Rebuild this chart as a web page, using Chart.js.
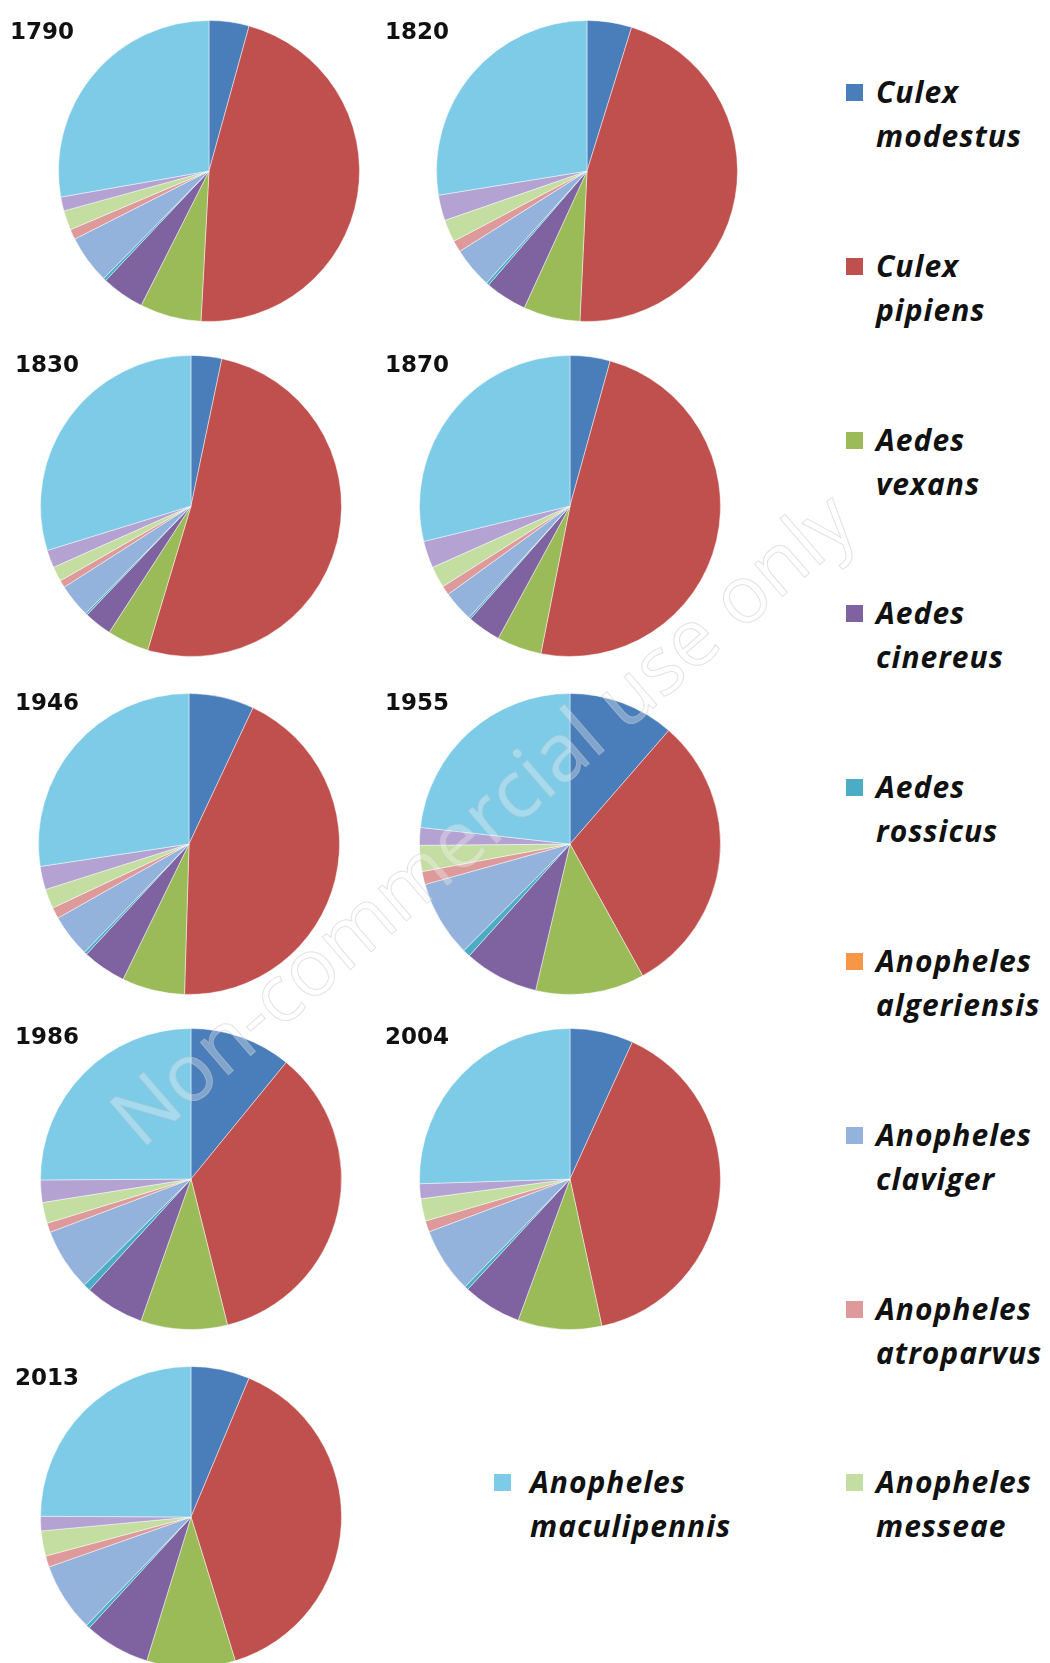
<!DOCTYPE html>
<html>
<head>
<meta charset="utf-8">
<script src="https://cdn.jsdelivr.net/npm/chart.js@4.4.1/dist/chart.umd.min.js"></script>
<style>
  html, body { margin: 0; padding: 0; background: #fff; }
  body { width: 1050px; height: 1663px; position: relative; overflow: hidden; }
  .pie { position: absolute; }
  .year { position: absolute; font-family: 'DejaVu Sans', sans-serif; font-weight: bold; font-size: 23px; color: #111; line-height: 1; }
  .item { position: absolute; font-family: 'Open Sans', sans-serif; font-weight: 700; font-style: italic; font-size: 30px; letter-spacing: 1px; color: #111; line-height: 44px; white-space: nowrap; }
  .item .sq { position: absolute; width: 17px; height: 17px; }
  .mark { position: absolute; font-family: 'Open Sans', sans-serif; font-size: 80px; white-space: nowrap;
    color: rgba(255, 255, 255, .3); -webkit-text-stroke: 1px rgba(200, 200, 200, .5);
    transform: translate(-50%, -50%) rotate(-40.8deg); }
</style>
</head>
<body>
<script>
// species, clockwise from 12 o'clock; the lavender slice has no legend entry
var species = [
  'Culex modestus', 'Culex pipiens', 'Aedes vexans', 'Aedes cinereus', 'Aedes rossicus',
  'Anopheles algeriensis', 'Anopheles claviger', 'Anopheles atroparvus', 'Anopheles messeae',
  '', 'Anopheles maculipennis'
]
var colors = [
  '#4a7ebb', '#c0504d', '#9bbb59', '#7f63a1', '#4bacc6',
  '#f79646', '#93b3dc', '#de9a9b', '#c3dea0', '#b3a2d2', '#7ecbe8'
]

var years = ['1790', '1820', '1830', '1870', '1946', '1955', '1986', '2004', '2013']

// share (%) per species, same order as species
var y1790 = [4.3, 46.6, 6.6, 4.6, 0.3, 0, 5.2, 1.1, 2.1, 1.5, 27.8]
var y1820 = [4.8, 46.0, 6.1, 4.5, 0.3, 0, 4.4, 1.25, 2.4, 2.75, 27.6]
var y1830 = [3.3, 51.4, 4.5, 3.0, 0.2, 0, 3.6, 0.8, 1.6, 1.9, 29.8]
var y1870 = [4.3, 48.75, 4.8, 3.6, 0.2, 0, 3.3, 1.0, 2.3, 2.9, 28.75]
var y1946 = [7.0, 43.5, 6.75, 4.7, 0.3, 0, 4.6, 1.2, 2.1, 2.5, 27.4]
var y1955 = [11.4, 30.6, 11.7, 8.0, 0.8, 0, 8.2, 1.4, 2.8, 1.9, 23.25]
var y1986 = [10.9, 35.2, 9.3, 6.4, 0.75, 0, 6.7, 1.0, 2.25, 2.4, 25.1]
var y2004 = [6.8, 39.8, 9.0, 6.3, 0.4, 0, 7.0, 1.2, 2.4, 1.6, 25.5]
var y2013 = [6.3, 38.9, 9.5, 7.05, 0.4, 0, 7.4, 1.2, 2.7, 1.55, 24.9]

var shares = [y1790, y1820, y1830, y1870, y1946, y1955, y1986, y2004, y2013]

// pie centres on the page
var centres = [[209, 171], [587, 171], [191, 506], [570, 506], [189, 844], [570, 844], [191, 1179], [570, 1179], [191, 1517]]
var labelPos = [[10, 20], [385, 20], [15, 353], [385, 353], [15, 691], [385, 691], [15, 1025], [385, 1025], [15, 1366]]

var size = 304

years.forEach(function (year, i) {
  var c = document.createElement('canvas')
  c.className = 'pie'
  c.width = size
  c.height = size
  c.style.left = (centres[i][0] - size / 2) + 'px'
  c.style.top = (centres[i][1] - size / 2) + 'px'
  document.body.appendChild(c)

  var lbl = document.createElement('div')
  lbl.className = 'year'
  lbl.textContent = year
  lbl.style.left = labelPos[i][0] + 'px'
  lbl.style.top = labelPos[i][1] + 'px'
  document.body.appendChild(lbl)

  new Chart(c.getContext('2d'), {
    type: 'pie',
    data: {
      labels: species,
      datasets: [{
        data: shares[i],
        backgroundColor: colors,
        borderColor: 'rgba(255, 255, 255, .45)',
        borderWidth: 1
      }]
    },
    options: {
      responsive: false,
      animation: false,
      layout: { padding: 1 },
      plugins: { legend: { display: false }, tooltip: { enabled: false } }
    }
  })
})

// Legend: right-hand column plus maculipennis at the bottom
var legendRows = [0, 1, 2, 3, 4, 5, 6, 7, 8]
legendRows.forEach(function (k, row) {
  addItem(k, 846, 70 + row * 173.8, 30)
})
addItem(10, 494, 1460, 36)

function addItem (k, x, y, gap) {
  var words = species[k].split(' ')
  var d = document.createElement('div')
  d.className = 'item'
  d.style.left = (x + gap) + 'px'
  d.style.top = y + 'px'
  d.innerHTML = words[0] + '<br>' + words[1]
  var sq = document.createElement('span')
  sq.className = 'sq'
  sq.style.background = colors[k]
  sq.style.left = -gap + 'px'
  sq.style.top = '14px'
  d.appendChild(sq)
  document.body.appendChild(d)
}

var wm = document.createElement('div')
wm.className = 'mark'
wm.textContent = 'Non-commercial use only'
wm.style.left = '480px'
wm.style.top = '816px'
document.body.appendChild(wm)
</script>
</body>
</html>
